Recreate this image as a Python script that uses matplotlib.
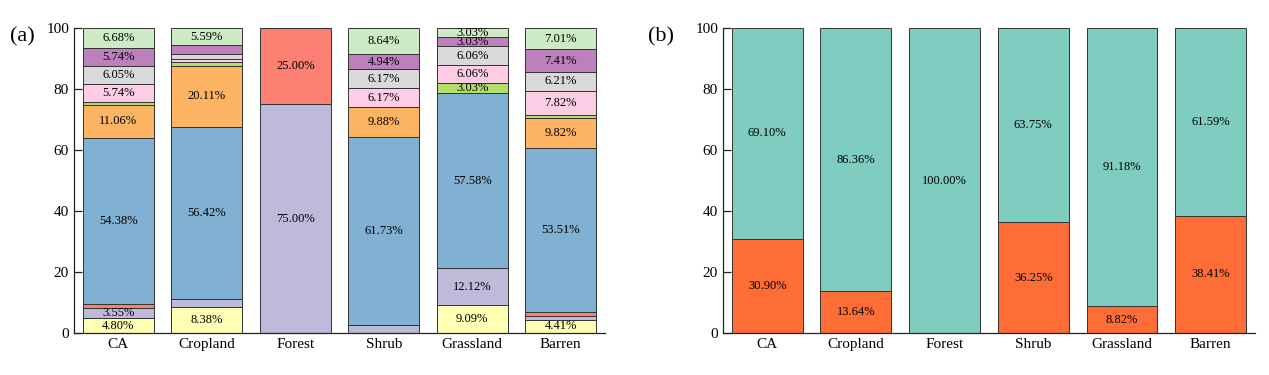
import matplotlib
matplotlib.use("Agg")
import matplotlib.pyplot as plt
import numpy as np

plt.rcParams["font.family"] = ["Liberation Serif", "DejaVu Serif"]

CATEGORIES = ["CA", "Cropland", "Forest", "Shrub", "Grassland", "Barren"]

# panel (a): share of each class per land type (%), stacked bottom to top
CLASS_VALUES = [
    [4.80, 8.38, 0.00, 0.00, 9.09, 4.41],      # yellow
    [3.55, 2.79, 75.00, 2.47, 12.12, 1.20],    # lavender
    [1.12, 0.00, 25.00, 0.00, 0.00, 1.40],     # red
    [54.38, 56.42, 0.00, 61.73, 57.58, 53.51], # blue
    [11.06, 20.11, 0.00, 9.88, 0.00, 9.82],    # orange
    [0.88, 1.12, 0.00, 0.00, 3.03, 1.21],      # green
    [5.74, 1.12, 0.00, 6.17, 6.06, 7.82],      # pink
    [6.05, 1.68, 0.00, 6.17, 6.06, 6.21],      # grey
    [5.74, 2.79, 0.00, 4.94, 3.03, 7.41],      # purple
    [6.68, 5.59, 0.00, 8.64, 3.03, 7.01],      # light green
]
CLASS_COLORS = ["#ffffb3", "#bebada", "#fb8072", "#80b1d3", "#fdb462",
                "#b3de69", "#fccde5", "#d9d9d9", "#bc80bd", "#ccebc5"]

# panel (b)
LOWER_VALUES = [30.90, 13.64, 0.00, 36.25, 8.82, 38.41]
UPPER_VALUES = [69.10, 86.36, 100.00, 63.75, 91.18, 61.59]
LOWER_COLOR = "#fe6d35"
UPPER_COLOR = "#7fccc1"

EDGE = "#333333"
LABEL_MIN = 3.0


def style_axes(ax) -> None:
    ax.set_xlim(-0.5, len(CATEGORIES) - 0.5)
    ax.set_ylim(0, 100)
    ax.set_yticks(np.arange(0, 101, 20))
    ax.set_xticks(np.arange(len(CATEGORIES)))
    ax.set_xticklabels(CATEGORIES)
    ax.spines["top"].set_visible(False)
    ax.spines["right"].set_visible(False)
    for spine in ax.spines.values():
        spine.set_linewidth(0.9)
        spine.set_color("#222222")
    ax.tick_params(axis="both", direction="in", labelsize=11, width=0.9, color="#222222")
    ax.tick_params(axis="y", length=6)
    ax.tick_params(axis="x", length=4)


def stacked(ax, series, colors) -> None:
    x = np.arange(len(CATEGORIES))
    bottom = np.zeros(len(CATEGORIES))
    for vals, color in zip(series, colors):
        vals = np.asarray(vals)
        ax.bar(x, vals, 0.8, bottom=bottom, color=color, edgecolor=EDGE, linewidth=0.7, zorder=2)
        for xi, b, v in zip(x, bottom, vals):
            if v >= LABEL_MIN:
                ax.text(xi, b + v / 2, f"{v:.2f}%", ha="center", va="center", fontsize=9, zorder=3)
        bottom += vals


fig = plt.figure(figsize=(12.69, 3.75), dpi=100)
ax_a = fig.add_axes([0.0583, 0.112, 0.4185, 0.8133])
ax_b = fig.add_axes([0.5697, 0.112, 0.4193, 0.8133])

stacked(ax_a, CLASS_VALUES, CLASS_COLORS)
stacked(ax_b, [LOWER_VALUES, UPPER_VALUES], [LOWER_COLOR, UPPER_COLOR])
style_axes(ax_a)
style_axes(ax_b)

fig.text(0.008, 0.89, "(a)", fontsize=16)
fig.text(0.511, 0.89, "(b)", fontsize=16)

fig.savefig("out.png", dpi=100)
